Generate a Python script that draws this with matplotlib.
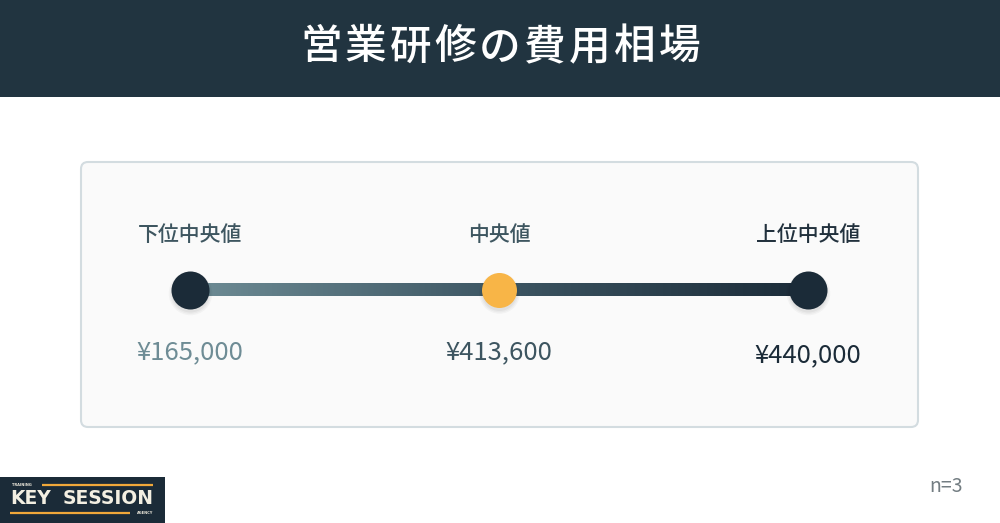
"""
営業研修の費用相場 - 3点比較チャート
"""
import numpy as np
import matplotlib
matplotlib.use('Agg')
from matplotlib import pyplot as plt
from matplotlib.colors import LinearSegmentedColormap
from matplotlib.patches import FancyBboxPatch, Rectangle

plt.rcParams['font.family'] = ['Noto Sans CJK JP', 'DejaVu Sans']

# データ
title = '営業研修の費用相場'
labels = ['下位中央値', '中央値', '上位中央値']
values = [165000, 413600, 440000]
sample_n = 3

# 色
navy = '#213440'
dark = '#1b2b38'
orange = '#f8b547'
label_colors = ['#3e5660', '#3e5660', '#22313d']
value_colors = ['#6e8c95', '#3d5560', '#1b2b38']
dot_colors = [dark, orange, dark]

fig = plt.figure(figsize=(10, 5.23), dpi=100)
fig.patch.set_facecolor('white')

# 背景用 (ピクセル座標)
bg = fig.add_axes([0, 0, 1, 1])
bg.set_xlim(0, 1000)
bg.set_ylim(523, 0)
bg.axis('off')

# ヘッダー
bg.add_patch(Rectangle((0, 0), 1000, 97, color=navy, lw=0))
# 文字間隔を少し広げて1文字ずつ配置
cw = 44.8
x0 = 500 - cw * (len(title) - 1) / 2
for i, ch in enumerate(title):
    bg.text(x0 + i * cw, 47, ch, color='white', fontsize=30,
            fontweight='medium', ha='center', va='center')

# カード
bg.add_patch(FancyBboxPatch((81, 162), 837, 265,
                            boxstyle='round,pad=0,rounding_size=7',
                            fc='#fafafa', ec='#d3dce0', lw=1.5))

# n=3
bg.text(963, 487, f'n={sample_n}', color='#737d82', fontsize=14,
        ha='right', va='center')

# ロゴ
bg.add_patch(Rectangle((0, 477), 165, 46, color=dark, lw=0))
bg.plot([42, 153], [485, 485], color='#f0a83a', lw=1.6, solid_capstyle='butt')
bg.plot([10, 130], [513, 513], color='#f0a83a', lw=1.6, solid_capstyle='butt')
bg.text(12, 485, 'TRAINING', color='#e8e4d8', fontsize=2.6, va='center',
        family='DejaVu Sans', fontweight='bold')
bg.text(153, 513, 'AGENCY', color='#e8e4d8', fontsize=2.6, va='center',
        ha='right', family='DejaVu Sans', fontweight='bold')
bg.text(10, 499, 'KEY', color='#f3efe2', fontsize=13.5,
        fontweight='bold', family='DejaVu Sans', ha='left', va='center')
bg.text(154, 499, 'SESSION', color='#f3efe2', fontsize=13.5,
        fontweight='bold', family='DejaVu Sans', ha='right', va='center')

# チャート用 axes (カード内)
ax = fig.add_axes([0.08, 95 / 523, 0.839, 267 / 523])
ax.patch.set_alpha(0)
ax.axis('off')
pos = np.arange(len(labels))

y_label, y_line, y_value = 74, 129, 191

# グラデーションライン
cmap = LinearSegmentedColormap.from_list('line', ['#6e8c95', '#3d5663', '#1b2b38'])
grad = np.linspace(0, 1, 512).reshape(1, -1)
ax.imshow(grad, cmap=cmap, aspect='auto', interpolation='bilinear',
          extent=(pos[0], pos[-1], y_line + 6.5, y_line - 6.5), zorder=2)
ax.set_xlim(-110 / 309, pos[-1] + 111 / 309)
ax.set_ylim(267, 0)

# 点 (影付き)
sizes = [38, 35, 38]
for x, c, s in zip(pos, dot_colors, sizes):
    for k, a in enumerate([0.03, 0.03, 0.04]):
        ax.scatter(x, y_line + 3, s=(s * 0.72 + 4 - 2 * k) ** 2, color='black',
                   alpha=a, lw=0, zorder=3)
    ax.scatter(x, y_line, s=(s * 0.72) ** 2, color=c, lw=0, zorder=4)

# ラベルと金額
for x, lab, v, lc_, vc in zip(pos, labels, values, label_colors, value_colors):
    ax.text(x, y_label, lab, ha='center', va='center', fontsize=15,
            color=lc_, fontweight='medium')
    ax.text(x, y_value + (3 if x == pos[-1] else 0), f'¥{v:,}',
            ha='center', va='center', fontsize=18.5, color=vc,
            fontweight='normal')

fig.savefig('out.png', dpi=100)
plt.close()
